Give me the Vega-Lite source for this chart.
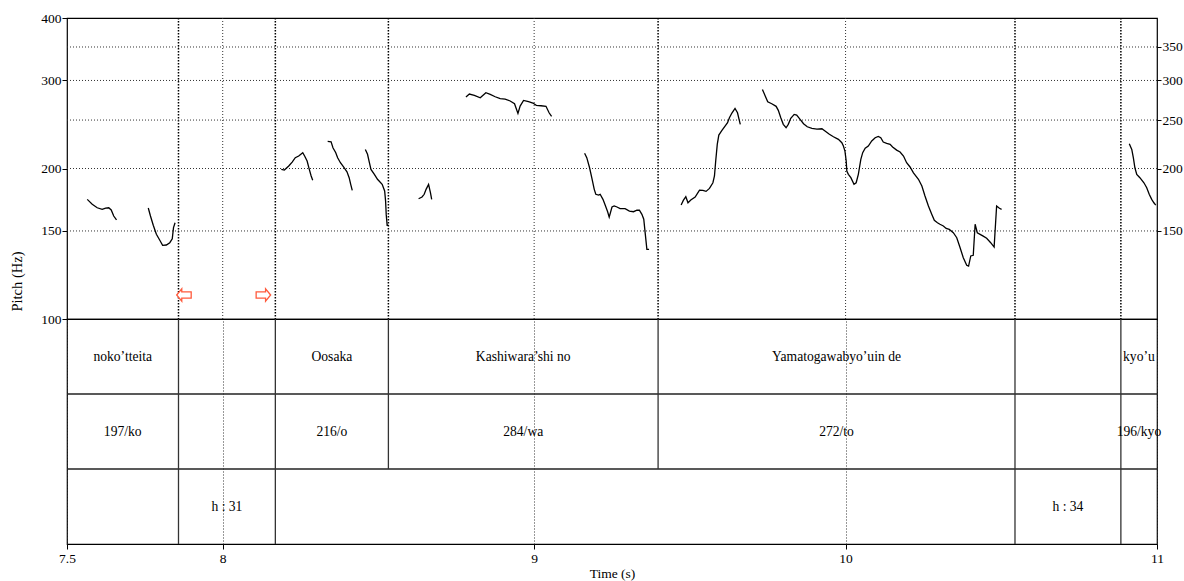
{
  "$schema": "https://vega.github.io/schema/vega-lite/v6.json",
  "padding": {"left": 8, "top": 10, "right": 0, "bottom": 0},
  "background": "white",
  "spacing": 0,
  "bounds": "flush",
  "config": {
    "font": "Liberation Serif",
    "view": {"stroke": "black", "strokeWidth": 1.2},
    "concat": {"spacing": 0},
    "axis": {
      "labelFont": "Liberation Serif", "titleFont": "Liberation Serif",
      "labelColor": "black", "titleColor": "black", "tickColor": "black", "domainColor": "black",
      "labelFontSize": 13.5, "titleFontSize": 13.5, "titleFontWeight": "normal"
    }
  },
  "datasets": {
    "pitch": [
      {"s":1,"t":7.565,"f":173.5},{"s":1,"t":7.581,"f":169.6},{"s":1,"t":7.597,"f":166.9},{"s":1,"t":7.613,"f":165.7},{"s":1,"t":7.624,"f":166.7},{"s":1,"t":7.634,"f":166.9},{"s":1,"t":7.642,"f":165.2},{"s":1,"t":7.650,"f":160.7},{"s":1,"t":7.659,"f":157.8},
      {"s":2,"t":7.761,"f":166.7},{"s":2,"t":7.768,"f":160.7},{"s":2,"t":7.777,"f":154.0},{"s":2,"t":7.787,"f":147.7},{"s":2,"t":7.798,"f":143.7},{"s":2,"t":7.807,"f":140.4},{"s":2,"t":7.819,"f":140.6},{"s":2,"t":7.830,"f":142.1},{"s":2,"t":7.838,"f":144.7},{"s":2,"t":7.842,"f":152.3},{"s":2,"t":7.847,"f":155.8},
      {"s":3,"t":8.188,"f":199.2},{"s":3,"t":8.198,"f":198.6},{"s":3,"t":8.212,"f":202.3},{"s":3,"t":8.223,"f":206.0},{"s":3,"t":8.233,"f":210.2},{"s":3,"t":8.244,"f":211.8},{"s":3,"t":8.257,"f":215.1},{"s":3,"t":8.263,"f":211.8},{"s":3,"t":8.271,"f":207.0},{"s":3,"t":8.278,"f":199.2},{"s":3,"t":8.284,"f":193.2},{"s":3,"t":8.289,"f":189.4},
      {"s":4,"t":8.337,"f":226.6},{"s":4,"t":8.348,"f":226.2},{"s":4,"t":8.354,"f":220.1},{"s":4,"t":8.363,"f":215.1},{"s":4,"t":8.369,"f":210.2},{"s":4,"t":8.378,"f":205.4},{"s":4,"t":8.388,"f":201.4},{"s":4,"t":8.399,"f":197.0},{"s":4,"t":8.406,"f":191.7},{"s":4,"t":8.411,"f":185.9},{"s":4,"t":8.416,"f":180.9},
      {"s":5,"t":8.458,"f":218.4},{"s":5,"t":8.465,"f":213.5},{"s":5,"t":8.471,"f":205.4},{"s":5,"t":8.476,"f":199.2},{"s":5,"t":8.487,"f":194.7},{"s":5,"t":8.497,"f":190.3},{"s":5,"t":8.512,"f":185.9},{"s":5,"t":8.520,"f":180.3},{"s":5,"t":8.523,"f":172.2},{"s":5,"t":8.525,"f":161.9},{"s":5,"t":8.528,"f":154.0},{"s":5,"t":8.532,"f":154.0},
      {"s":6,"t":8.629,"f":174.0},{"s":6,"t":8.640,"f":175.4},{"s":6,"t":8.647,"f":177.6},{"s":6,"t":8.653,"f":181.7},{"s":6,"t":8.661,"f":185.9},{"s":6,"t":8.667,"f":178.9},{"s":6,"t":8.671,"f":173.5},
      {"s":7,"t":8.781,"f":277.9},{"s":7,"t":8.792,"f":281.8},{"s":7,"t":8.808,"f":280.1},{"s":7,"t":8.827,"f":277.0},{"s":7,"t":8.845,"f":283.5},{"s":7,"t":8.859,"f":281.4},{"s":7,"t":8.875,"f":278.3},{"s":7,"t":8.891,"f":275.8},{"s":7,"t":8.907,"f":275.4},{"s":7,"t":8.923,"f":272.9},{"s":7,"t":8.937,"f":269.5},{"s":7,"t":8.948,"f":257.8},{"s":7,"t":8.955,"f":266.6},{"s":7,"t":8.966,"f":273.7},{"s":7,"t":8.982,"f":272.0},{"s":7,"t":8.996,"f":270.4},{"s":7,"t":9.007,"f":267.5},{"s":7,"t":9.022,"f":267.0},{"s":7,"t":9.038,"f":266.3},{"s":7,"t":9.048,"f":258.5},{"s":7,"t":9.056,"f":254.3},
      {"s":8,"t":9.162,"f":214.5},{"s":8,"t":9.169,"f":210.2},{"s":8,"t":9.178,"f":200.7},{"s":8,"t":9.185,"f":191.7},{"s":8,"t":9.193,"f":181.7},{"s":8,"t":9.198,"f":177.6},{"s":8,"t":9.207,"f":177.0},{"s":8,"t":9.212,"f":177.6},{"s":8,"t":9.221,"f":173.5},{"s":8,"t":9.228,"f":169.0},{"s":8,"t":9.236,"f":163.9},{"s":8,"t":9.241,"f":159.9},{"s":8,"t":9.250,"f":167.5},{"s":8,"t":9.257,"f":168.3},{"s":8,"t":9.266,"f":167.5},{"s":8,"t":9.276,"f":166.2},{"s":8,"t":9.292,"f":166.2},{"s":8,"t":9.306,"f":164.4},{"s":8,"t":9.319,"f":163.9},{"s":8,"t":9.330,"f":165.0},{"s":8,"t":9.338,"f":165.0},{"s":8,"t":9.346,"f":161.9},{"s":8,"t":9.352,"f":158.3},{"s":8,"t":9.357,"f":147.7},{"s":8,"t":9.362,"f":137.8},{"s":8,"t":9.369,"f":137.8},
      {"s":9,"t":9.472,"f":169.0},{"s":9,"t":9.479,"f":172.7},{"s":9,"t":9.487,"f":175.6},{"s":9,"t":9.494,"f":170.8},{"s":9,"t":9.503,"f":173.0},{"s":9,"t":9.517,"f":175.4},{"s":9,"t":9.531,"f":181.1},{"s":9,"t":9.542,"f":180.9},{"s":9,"t":9.552,"f":180.0},{"s":9,"t":9.563,"f":182.5},{"s":9,"t":9.574,"f":187.3},{"s":9,"t":9.579,"f":193.2},{"s":9,"t":9.583,"f":207.0},{"s":9,"t":9.588,"f":223.5},{"s":9,"t":9.593,"f":233.3},{"s":9,"t":9.603,"f":238.4},{"s":9,"t":9.613,"f":243.2},{"s":9,"t":9.621,"f":246.9},{"s":9,"t":9.627,"f":252.7},{"s":9,"t":9.635,"f":258.2},{"s":9,"t":9.645,"f":263.8},{"s":9,"t":9.653,"f":258.5},{"s":9,"t":9.658,"f":250.8},{"s":9,"t":9.662,"f":245.1},
      {"s":10,"t":9.733,"f":287.9},{"s":10,"t":9.742,"f":279.2},{"s":10,"t":9.750,"f":272.0},{"s":10,"t":9.763,"f":269.5},{"s":10,"t":9.777,"f":266.3},{"s":10,"t":9.784,"f":261.4},{"s":10,"t":9.792,"f":252.7},{"s":10,"t":9.800,"f":245.1},{"s":10,"t":9.809,"f":241.3},{"s":10,"t":9.816,"f":245.1},{"s":10,"t":9.824,"f":252.0},{"s":10,"t":9.835,"f":256.6},{"s":10,"t":9.843,"f":255.8},{"s":10,"t":9.854,"f":250.8},{"s":10,"t":9.865,"f":245.8},{"s":10,"t":9.877,"f":242.4},{"s":10,"t":9.892,"f":240.6},{"s":10,"t":9.908,"f":239.8},{"s":10,"t":9.924,"f":240.2},{"s":10,"t":9.934,"f":237.7},{"s":10,"t":9.948,"f":234.1},{"s":10,"t":9.961,"f":231.5},{"s":10,"t":9.977,"f":228.7},{"s":10,"t":9.988,"f":225.2},{"s":10,"t":9.993,"f":221.8},{"s":10,"t":9.998,"f":216.7},{"s":10,"t":10.002,"f":207.0},{"s":10,"t":10.004,"f":197.7},{"s":10,"t":10.009,"f":194.7},{"s":10,"t":10.017,"f":191.7},{"s":10,"t":10.027,"f":185.9},{"s":10,"t":10.034,"f":187.3},{"s":10,"t":10.041,"f":194.7},{"s":10,"t":10.049,"f":208.6},{"s":10,"t":10.055,"f":215.1},{"s":10,"t":10.063,"f":219.5},{"s":10,"t":10.073,"f":221.8},{"s":10,"t":10.084,"f":227.0},{"s":10,"t":10.095,"f":230.4},{"s":10,"t":10.105,"f":231.9},{"s":10,"t":10.113,"f":230.4},{"s":10,"t":10.121,"f":225.9},{"s":10,"t":10.132,"f":224.6},{"s":10,"t":10.143,"f":223.5},{"s":10,"t":10.151,"f":220.8},{"s":10,"t":10.164,"f":217.7},{"s":10,"t":10.175,"f":215.8},{"s":10,"t":10.186,"f":211.8},{"s":10,"t":10.196,"f":205.4},{"s":10,"t":10.207,"f":201.4},{"s":10,"t":10.218,"f":196.1},{"s":10,"t":10.234,"f":190.3},{"s":10,"t":10.245,"f":184.5},{"s":10,"t":10.255,"f":176.2},{"s":10,"t":10.266,"f":168.3},{"s":10,"t":10.277,"f":161.9},{"s":10,"t":10.285,"f":157.5},{"s":10,"t":10.295,"f":155.8},{"s":10,"t":10.303,"f":154.7},{"s":10,"t":10.314,"f":153.5},{"s":10,"t":10.323,"f":151.8},{"s":10,"t":10.333,"f":151.1},{"s":10,"t":10.346,"f":148.8},{"s":10,"t":10.357,"f":145.4},{"s":10,"t":10.367,"f":139.3},{"s":10,"t":10.378,"f":132.6},{"s":10,"t":10.389,"f":128.1},{"s":10,"t":10.395,"f":127.6},{"s":10,"t":10.402,"f":133.7},{"s":10,"t":10.410,"f":134.1},{"s":10,"t":10.416,"f":154.7},{"s":10,"t":10.423,"f":148.8},{"s":10,"t":10.432,"f":147.7},{"s":10,"t":10.442,"f":146.5},{"s":10,"t":10.453,"f":145.0},{"s":10,"t":10.466,"f":142.1},{"s":10,"t":10.477,"f":139.3},{"s":10,"t":10.485,"f":168.3},{"s":10,"t":10.494,"f":166.5},{"s":10,"t":10.501,"f":165.7},
      {"s":11,"t":10.911,"f":224.1},{"s":11,"t":10.919,"f":218.4},{"s":11,"t":10.924,"f":210.2},{"s":11,"t":10.929,"f":200.7},{"s":11,"t":10.935,"f":194.7},{"s":11,"t":10.945,"f":191.7},{"s":11,"t":10.958,"f":187.3},{"s":11,"t":10.967,"f":183.1},{"s":11,"t":10.975,"f":177.6},{"s":11,"t":10.983,"f":173.5},{"s":11,"t":10.990,"f":170.8},{"s":11,"t":10.996,"f":169.0}
    ],
    "bounds": [{"t":7.858},{"t":8.169},{"t":8.532},{"t":9.398},{"t":10.544},{"t":10.884}],
    "grid": [{"t":8},{"t":9},{"t":10}],
    "hgrid": [{"f":150},{"f":200},{"f":250},{"f":300},{"f":350}],
    "arrows": [{"t":7.8755,"f":111.7,"dir":"left"},{"t":8.1306,"f":111.7,"dir":"right"}],
    "tierrows": [{"b":1},{"b":2}],
    "tierlines": [
      {"t":7.858,"from":0,"to":1},{"t":8.169,"from":0,"to":1},{"t":8.532,"from":0,"to":1},{"t":9.398,"from":0,"to":1},{"t":10.544,"from":0,"to":1},{"t":10.884,"from":0,"to":1},
      {"t":7.858,"from":1,"to":2},{"t":8.169,"from":1,"to":2},{"t":8.532,"from":1,"to":2},{"t":9.398,"from":1,"to":2},{"t":10.544,"from":1,"to":2},{"t":10.884,"from":1,"to":2},
      {"t":7.858,"from":2,"to":3},{"t":8.169,"from":2,"to":3},{"t":10.544,"from":2,"to":3},{"t":10.884,"from":2,"to":3}
    ],
    "labels": [
      {"mid":7.679,"tier":"word","label":"noko’tteita"},
      {"mid":8.3505,"tier":"word","label":"Oosaka"},
      {"mid":8.965,"tier":"word","label":"Kashiwara’shi no"},
      {"mid":9.971,"tier":"word","label":"Yamatogawabyo’uin de"},
      {"mid":10.942,"tier":"word","label":"kyo’u"},
      {"mid":7.679,"tier":"accent","label":"197/ko"},
      {"mid":8.3505,"tier":"accent","label":"216/o"},
      {"mid":8.965,"tier":"accent","label":"284/wa"},
      {"mid":9.971,"tier":"accent","label":"272/to"},
      {"mid":10.942,"tier":"accent","label":"196/kyo"},
      {"mid":8.0135,"tier":"phrase","label":"h : 31"},
      {"mid":10.714,"tier":"phrase","label":"h : 34"}
    ]
  },
  "vconcat": [
    {
      "width": 1090,
      "height": 301,
      "layer": [
        {
          "data": {"name": "grid"},
          "mark": {"type": "rule", "color": "#333", "strokeWidth": 1, "strokeDash": [1, 2]},
          "encoding": {"x": {"field": "t", "type": "quantitative", "scale": {"domain": [7.5, 11], "nice": false, "zero": false}, "axis": null}}
        },
        {
          "data": {"name": "bounds"},
          "mark": {"type": "rule", "color": "black", "strokeWidth": 1.5, "strokeDash": [1.5, 1.5]},
          "encoding": {"x": {"field": "t", "type": "quantitative", "scale": {"domain": [7.5, 11], "nice": false, "zero": false}, "axis": null}}
        },
        {
          "data": {"name": "hgrid"},
          "mark": {"type": "rule", "color": "#333", "strokeWidth": 1, "strokeDash": [1, 2]},
          "encoding": {"y": {"field": "f", "type": "quantitative", "scale": {"type": "log", "domain": [100, 400], "nice": false},
            "axis": {"orient": "right", "values": [150, 200, 250, 300, 350], "format": "~g", "grid": false, "domain": false, "tickSize": 4, "labelPadding": 1, "title": null}}}
        },
        {
          "layer": [
            {
              "data": {"name": "pitch"},
              "mark": {"type": "line", "color": "black", "strokeWidth": 1.3},
              "encoding": {
                "x": {"field": "t", "type": "quantitative", "scale": {"domain": [7.5, 11], "nice": false, "zero": false}, "axis": null},
                "y": {"field": "f", "type": "quantitative", "scale": {"type": "log", "domain": [100, 400], "nice": false},
                  "axis": {"orient": "left", "values": [100, 150, 200, 300, 400], "format": "~g", "grid": false, "domain": false, "tickSize": 5, "labelPadding": 1, "title": "Pitch (Hz)", "titleFontSize": 14.5, "titleFont": "Liberation Serif", "titleX": -43, "titleY": 263}},
                "detail": {"field": "s", "type": "nominal"}
              }
            },
            {
              "data": {"name": "arrows"},
              "transform": [{"filter": "datum.dir == 'left'"}],
              "mark": {"type": "point", "shape": "M -1 0 L -0.3 -0.86 L -0.3 -0.43 L 1 -0.43 L 1 0.43 L -0.3 0.43 L -0.3 0.86 Z", "size": 210, "filled": true, "fill": "white", "stroke": "#ff5a3c", "strokeWidth": 1.3, "opacity": 1},
              "encoding": {
                "x": {"field": "t", "type": "quantitative"},
                "y": {"field": "f", "type": "quantitative"}
              }
            },
            {
              "data": {"name": "arrows"},
              "transform": [{"filter": "datum.dir == 'right'"}],
              "mark": {"type": "point", "shape": "M 1 0 L 0.3 -0.86 L 0.3 -0.43 L -1 -0.43 L -1 0.43 L 0.3 0.43 L 0.3 0.86 Z", "size": 210, "filled": true, "fill": "white", "stroke": "#ff5a3c", "strokeWidth": 1.3, "opacity": 1},
              "encoding": {
                "x": {"field": "t", "type": "quantitative"},
                "y": {"field": "f", "type": "quantitative"}
              }
            }
          ]
        }
      ],
      "resolve": {"scale": {"y": "independent"}}
    },
    {
      "width": 1090,
      "height": 225,
      "layer": [
        {
          "data": {"name": "tierrows"},
          "mark": {"type": "rule", "color": "#222", "strokeWidth": 1.5},
          "encoding": {"y": {"field": "b", "type": "quantitative", "scale": {"domain": [0, 3], "reverse": true, "nice": false, "zero": false}, "axis": null}}
        },
        {
          "data": {"name": "tierlines"},
          "mark": {"type": "rule", "color": "#333", "strokeWidth": 1.3},
          "encoding": {
            "x": {"field": "t", "type": "quantitative", "scale": {"domain": [7.5, 11], "nice": false, "zero": false},
              "axis": {"values": [7.5, 8, 9, 10, 11], "format": "~g", "grid": true, "gridDash": [1, 2], "gridColor": "#333", "domain": false, "tickSize": 5, "labelPadding": 2, "labelFlush": false, "title": "Time (s)", "titlePadding": 2, "titleFontSize": 13.5}},
            "y": {"field": "from", "type": "quantitative", "scale": {"domain": [0, 3], "reverse": true, "nice": false, "zero": false}, "axis": null},
            "y2": {"field": "to"}
          }
        },
        {
          "data": {"name": "labels"},
          "mark": {"type": "text", "font": "Liberation Serif", "fontSize": 13.6, "color": "black", "baseline": "middle", "align": "center"},
          "encoding": {
            "x": {"field": "mid", "type": "quantitative"},
            "y": {"field": "tier", "type": "nominal", "scale": {"domain": ["word", "accent", "phrase"]}, "axis": null},
            "text": {"field": "label", "type": "nominal"}
          }
        }
      ],
      "resolve": {"scale": {"y": "independent"}}
    }
  ]
}
